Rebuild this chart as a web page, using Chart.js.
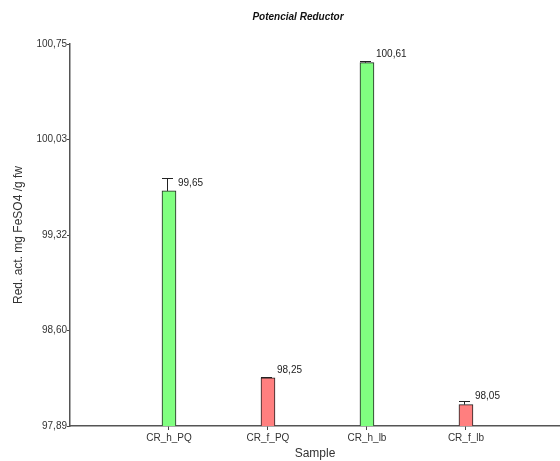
<!DOCTYPE html>
<html>
<head>
<meta charset="utf-8">
<script src="https://cdn.jsdelivr.net/npm/chart.js@4/dist/chart.umd.min.js"></script>
<style>
  html, body { margin: 0; padding: 0; background: #fff; }
  #wrap { width: 560px; height: 461px; }
</style>
</head>
<body>
<div id="wrap"><canvas id="c" width="560" height="461"></canvas></div>
<script>
// Reducing power per sample (mg FeSO4 / g fw), with standard deviation
const samples = ['CR_h_PQ', 'CR_f_PQ', 'CR_h_lb', 'CR_f_lb'];
const positions = [1, 2, 3, 4];
const means = [99.65, 98.25, 100.61, 98.05];
const errors = [0.10, 0.01, 0.015, 0.025];
const valueLabels = ['99,65', '98,25', '100,61', '98,05'];
const barColors = ['#80FF80', '#FF7F7F', '#80FF80', '#FF7F7F'];
const yTickValues = [97.89, 98.605, 99.32, 100.035, 100.75];
const yTickLabels = ['97,89', '98,60', '99,32', '100,03', '100,75'];

const FONT = "'Liberation Sans', Arial, sans-serif";

// Error bars and value labels on top of each bar
const errorBars = {
  id: 'errorBars',
  afterDatasetsDraw(chart) {
    const ctx = chart.ctx;
    const y = chart.scales.y;
    const meta = chart.getDatasetMeta(0);
    ctx.save();
    meta.data.forEach((bar, i) => {
      const top = y.getPixelForValue(means[i] + errors[i]);
      const cx = Math.round(bar.x) - 2;
      ctx.strokeStyle = '#222';
      ctx.lineWidth = 1;
      ctx.beginPath();
      ctx.moveTo(cx + 0.5, bar.y);
      ctx.lineTo(cx + 0.5, Math.round(top) + 0.5);
      ctx.moveTo(cx - 5, Math.round(top) + 0.5);
      ctx.lineTo(cx + 6, Math.round(top) + 0.5);
      ctx.stroke();
      ctx.fillStyle = '#222';
      ctx.font = '10px ' + FONT;
      ctx.textAlign = 'left';
      ctx.textBaseline = 'middle';
      ctx.fillText(valueLabels[i], bar.x + 9, bar.y - 8);
    });
    ctx.restore();
  }
};

// Bold italic heading
const heading = {
  id: 'heading',
  afterDraw(chart) {
    const ctx = chart.ctx;
    ctx.save();
    ctx.fillStyle = '#111';
    ctx.font = 'italic bold 10px ' + FONT;
    ctx.textAlign = 'center';
    ctx.textBaseline = 'middle';
    ctx.fillText('Potencial Reductor', 298, 17);
    ctx.restore();
  }
};

new Chart(document.getElementById('c'), {
  type: 'bar',
  data: {
    datasets: [{
      data: positions.map((p, i) => ({ x: p, y: means[i] })),
      backgroundColor: barColors,
      borderColor: '#222',
      borderWidth: 1,
      barThickness: 14
    }]
  },
  options: {
    responsive: false,
    animation: false,
    devicePixelRatio: 1,
    layout: { padding: { top: 44, right: 0, left: 0, bottom: 0 } },
    plugins: {
      legend: { display: false },
      tooltip: { enabled: false },
      title: { display: false }
    },
    scales: {
      x: {
        type: 'linear',
        offset: false,
        min: 0,
        max: 4.95,
        afterBuildTicks(scale) { scale.ticks = positions.map(v => ({ value: v })); },
        afterFit(scale) { scale.height = 35; },
        ticks: {
          callback: (v) => samples[positions.indexOf(v)] || '',
          font: { family: FONT, size: 10 },
          color: '#333',
          padding: 2,
          maxRotation: 0,
          autoSkip: false
        },
        grid: { display: true, offset: false, drawOnChartArea: false, drawTicks: true, tickLength: 4, color: '#444' },
        border: { display: true, color: '#555', width: 1.5 },
        title: {
          display: true,
          text: 'Sample',
          font: { family: FONT, size: 12 },
          color: '#333',
          padding: { top: 0, bottom: 0 }
        }
      },
      y: {
        min: 97.89,
        max: 100.75,
        afterBuildTicks(scale) { scale.ticks = yTickValues.map(v => ({ value: v })); },
        afterFit(scale) { scale.width = 70; },
        ticks: {
          callback: (v) => yTickLabels[yTickValues.indexOf(v)],
          font: { family: FONT, size: 10 },
          color: '#333',
          padding: 0,
          autoSkip: false
        },
        grid: { display: true, drawOnChartArea: false, drawTicks: true, tickLength: 3, color: '#444' },
        border: { display: true, color: '#555', width: 1.5 },
        title: {
          display: true,
          text: 'Red. act. mg FeSO4 /g fw',
          font: { family: FONT, size: 12 },
          color: '#333',
          padding: { top: 11, bottom: 0 }
        }
      }
    }
  },
  plugins: [errorBars, heading]
});
</script>
</body>
</html>
